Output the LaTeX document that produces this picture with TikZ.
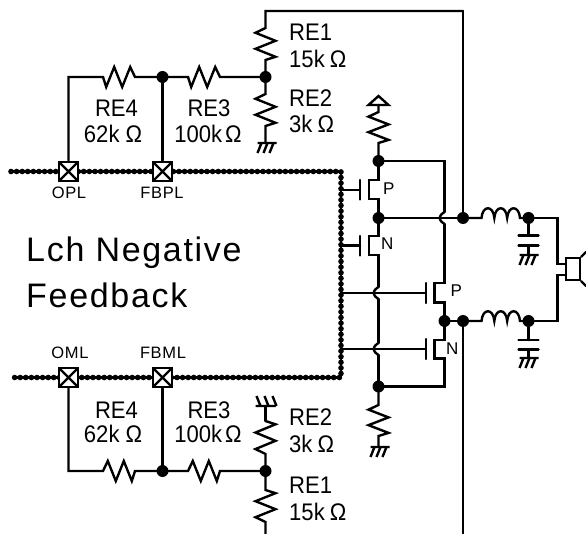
\documentclass[tikz,border=0pt]{standalone}
\usepackage{fontspec}
\setmainfont{Liberation Sans}
\newfontfamily\bigspaced[LetterSpace=5]{Liberation Sans}
\newfontfamily\smallspaced[LetterSpace=4]{Liberation Sans}
\newfontfamily\tallfont[FakeStretch=0.92]{Liberation Sans}
\usetikzlibrary{calc}
\tikzset{
  wire/.style={line width=2.4pt,line cap=round,line join=miter},
  res/.style={to path={
    -- ($(\tikztostart)!.15!(\tikztotarget)!10pt!#1:(\tikztotarget)$)
    -- ($(\tikztostart)!.40!(\tikztotarget)!10pt!-#1:(\tikztotarget)$)
    -- ($(\tikztostart)!.65!(\tikztotarget)!10pt!#1:(\tikztotarget)$)
    -- ($(\tikztostart)!.90!(\tikztotarget)!10pt!-#1:(\tikztotarget)$)
    -- (\tikztotarget)}},
  ind/.style={to path={
    .. controls +(1,-13) and +(-1,-13) .. ($(\tikztostart)!.3333!(\tikztotarget)$)
    .. controls +(1,-13) and +(-1,-13) .. ($(\tikztostart)!.6667!(\tikztotarget)$)
    .. controls +(1,-13) and +(-1,-13) .. (\tikztotarget)}},
  dot/.style={circle,fill=black,inner sep=0pt,minimum size=12pt},
  pad/.style={rectangle,draw=black,fill=white,line width=2.4pt,inner sep=0pt,minimum size=19.5pt,
    path picture={\draw[line width=2.4pt] (path picture bounding box.north west)--(path picture bounding box.south east)
      (path picture bounding box.north east)--(path picture bounding box.south west);}},
  bus/.style={line width=2.4pt},
  beads/.style={line width=5.6pt,line cap=round,dash pattern=on 0pt off 5.6pt},
  lab/.style={inner sep=0pt,anchor=base,font=\fontsize{24}{24}\tallfont},
  labw/.style={inner sep=0pt,anchor=base west,font=\fontsize{24}{24}\tallfont},
  tiny/.style={inner sep=0pt,anchor=base,font=\fontsize{16.5}{17}\smallspaced},
  tinyw/.style={inner sep=0pt,anchor=base west,font=\fontsize{17}{17}\selectfont},
  head/.style={inner sep=0pt,anchor=base west,font=\fontsize{34}{34}\bigspaced},
  pics/gnddown/.style={code={
    \draw[wire,line cap=butt] (-8,0)--(11,0) (-4,0)--(-8,10) (2,0)--(-2,10) (8,0)--(4,10);}},
  pics/gndup/.style={code={
    \draw[wire,line cap=butt] (-10,0)--(10,0) (-5,0)--(-9,-10) (3,0)--(-1,-10) (11,0)--(7,-10);}},
  pics/hop/.style={code={
    \draw[wire] (0,-6) .. controls (-3,-4) and (-5,-2) .. (-5,0) .. controls (-5,2) and (-3,4) .. (0,6);}},
}
\newcommand{\ohm}[2][3pt]{#2\hspace{#1}Ω}
\begin{document}
\begin{tikzpicture}[x=1pt,y=-1pt]
\useasboundingbox (0,0) rectangle (586,534);
% coordinates
\coordinate (topL) at (265.5,11);
\coordinate (topR) at (463,11);
\coordinate (n1) at (265.5,77);
\coordinate (n2) at (162.5,77);
\coordinate (cornerT) at (68.5,77);
\coordinate (n3) at (265.5,471);
\coordinate (n4) at (162.5,471);
\coordinate (cornerB) at (68.5,471);
\coordinate (busTL) at (11,171.5);
\coordinate (busTR) at (341,171.5);
\coordinate (busBL) at (14,377.5);
\coordinate (busBR) at (341,377.5);
\coordinate (g1) at (341,190);
\coordinate (g2) at (341,245.5);
\coordinate (g3) at (341,293);
\coordinate (g4) at (341,349);
\coordinate (botR) at (463,534);
\coordinate (botL) at (265.5,534);
% bus
\draw[bus] (busTL)--(busTR)--(busBR)--(busBL);
\draw[beads] (busTL)--(busTR)--(busBR)--(busBL);
% feedback nets
\node[dot] (dn1) at (n1) {};
\node[dot] (dn2) at (n2) {};
\node[dot] (dn3) at (n3) {};
\node[dot] (dn4) at (n4) {};
\node[pad] (opl) at (68.5,171.5) {};
\node[pad] (fbpl) at (162.5,171.5) {};
\node[pad] (oml) at (68.5,377.5) {};
\node[pad] (fbml) at (162.5,377.5) {};
\draw[wire] (topR)--(topL)--(265.5,28) to[res=-90] (265.5,60) -- (n1) -- (265.5,94) to[res=-90] (265.5,126) -- (265.5,143) coordinate (gA);
\pic at (gA) {gnddown};
\draw[wire] (n1) -- (220,77) to[res=-90] (188,77) -- (n2) -- (135,77) to[res=-90] (103,77) -- (cornerT) -- (opl.north);
\draw[wire] (n2) -- (fbpl.north);
\draw[wire] (oml.south) -- (cornerB) -- (103,471) to[res=90] (135,471) -- (n4) -- (188,471) to[res=90] (220,471) -- (n3);
\draw[wire] (fbml.south) -- (n4);
\draw[wire] (265.5,406) coordinate (gB) -- (265.5,421);
\pic at (gB) {gndup};
\draw[wire] (n3) -- (265.5,454) to[res=90] (265.5,421);
\draw[wire] (botL) -- (265.5,522) to[res=90] (265.5,490) -- (n3);
% output
\coordinate (m1) at (378.5,161);
\coordinate (m2) at (378.5,218);
\coordinate (m3) at (378.5,386.5);
\coordinate (o1) at (444.5,321);
\coordinate (o2) at (463,218);
\coordinate (o3) at (463,321);
\coordinate (c1) at (528.5,218);
\coordinate (c2) at (528.5,321);
\coordinate (h1) at (444.5,218);
\coordinate (h2) at (378.5,293);
\coordinate (h3) at (378.5,349);
\node[dot] (dm1) at (m1) {};
\node[dot] (dm2) at (m2) {};
\node[dot] (dm3) at (m3) {};
\node[dot] (do1) at (o1) {};
\node[dot] (do2) at (o2) {};
\node[dot] (do3) at (o3) {};
\node[dot] (dc1) at (c1) {};
\node[dot] (dc2) at (c2) {};
\draw[wire] (topR) -- (do2);
\draw[wire] (do3) -- (botR);
% Vdd
\draw[wire] (368.5,105) -- (388.5,105) -- (378.5,96) -- cycle;
\draw[wire] (378.5,105) -- (378.5,112) to[res=-90] (378.5,143) -- (m1);
% left column
\draw[wire] (m1) -- (378.5,180) -- (369,180) -- (369,199) -- (378.5,199) -- (m2);
\draw[wire] (m2) -- (378.5,236) -- (369,236) -- (369,255) -- (378.5,255) -- ($(h2)+(0,-6)$);
\draw[wire] ($(h2)+(0,6)$) -- ($(h3)+(0,-6)$);
\draw[wire] ($(h3)+(0,6)$) -- (m3);
\pic at (h2) {hop};
\pic at (h3) {hop};
\draw[wire] (m3) -- (378.5,405) to[res=-90] (378.5,436) -- (378.5,447) coordinate (gC);
\pic at (gC) {gnddown};
% gates left
\draw[wire] (360,180) -- (360,199.5) (g1) -- (360,190);
\draw[wire] (360,236) -- (360,255.5) (g2) -- (360,245.5);
% right column
\draw[wire] (m1) -- (444.5,161) -- ($(h1)+(0,-6)$);
\pic at (h1) {hop};
\draw[wire] ($(h1)+(0,6)$) -- (444.5,283) -- (434.5,283) -- (434.5,302.5) -- (444.5,302.5) -- (o1) -- (444.5,340) -- (434.5,340) -- (434.5,358.5) -- (444.5,358.5) -- (444.5,386.5) -- (m3);
\draw[wire] (m2) -- (do2);
\draw[wire] (do3) -- (do1);
% gates right
\draw[wire] (425.7,283) -- (425.7,303) (g3) -- (425.7,293);
\draw[wire] (425.7,339) -- (425.7,359) (g4) -- (425.7,349);
% LC
\draw[wire] (do2) -- (481.5,218) to[ind] (520,218) -- (dc1);
\draw[wire] (do3) -- (481.5,321) to[ind] (520,321) -- (dc2);
\draw[wire] (dc1) -- (528.5,235.5) (518.5,235.5) -- (538.5,235.5) (518.5,245.5) -- (538.5,245.5) (528.5,245.5) -- (528.5,255) coordinate (gD);
\draw[wire] (dc2) -- (528.5,340) (518.5,340) -- (538.5,340) (518.5,349.5) -- (538.5,349.5) (528.5,349.5) -- (528.5,358) coordinate (gE);
\pic at ($(gD)+(-1,0)$) {gnddown};
\pic at ($(gE)+(-1,0)$) {gnddown};
% speaker
\node[draw=black,line width=2.4pt,inner sep=0pt,minimum width=14pt,minimum height=22pt] (spk) at (573,269) {};
\draw[wire] (dc1) -- (557.5,218) -- (557.5,264) -- (566,264);
\draw[wire] (dc2) -- (557.5,321) -- (557.5,275) -- (566,275);
\draw[wire] (spk.north east) -- (586,252) (spk.south east) -- (586,286);
% labels
\node[lab] (t1) at (116.5,117) {RE4};
\node[lab] (t2) at (113,142.7) {\ohm[6pt]{62k}};
\node[lab] (t3) at (209,117) {RE3};
\node[lab] (t4) at (208,142.7) {\ohm{100k}};
\node[lab] (t5) at (116.5,418) {RE4};
\node[lab] (t6) at (113,442.7) {\ohm[6pt]{62k}};
\node[lab] (t7) at (209,418) {RE3};
\node[lab] (t8) at (208,442.7) {\ohm{100k}};
\node[labw] (t9) at (289,40.5) {RE1};
\node[labw] (t10) at (289,68) {\ohm[5pt]{15k}};
\node[labw] (t11) at (289,107) {RE2};
\node[labw] (t12) at (289,132.5) {\ohm[5pt]{3k}};
\node[labw] (t13) at (289,425) {RE2};
\node[labw] (t14) at (289,452) {\ohm[5pt]{3k}};
\node[labw] (t15) at (289,493) {RE1};
\node[labw] (t16) at (289,520) {\ohm[5pt]{15k}};
\node[tiny] (t17) at (69,199) {OPL};
\node[tiny] (t18) at (162,199) {FBPL};
\node[tiny] (t19) at (70,359) {OML};
\node[tiny] (t20) at (163,359) {FBML};
\node[tinyw] (t21) at (383,195) {P};
\node[tinyw] (t22) at (381,250) {N};
\node[tinyw] (t23) at (450.5,297) {P};
\node[tinyw] (t24) at (446,355) {N};
\node[head] (t25) at (26,262) {Lch Negative};
\node[head] (t26) at (26,308) {Feedback};
\end{tikzpicture}
\end{document}
